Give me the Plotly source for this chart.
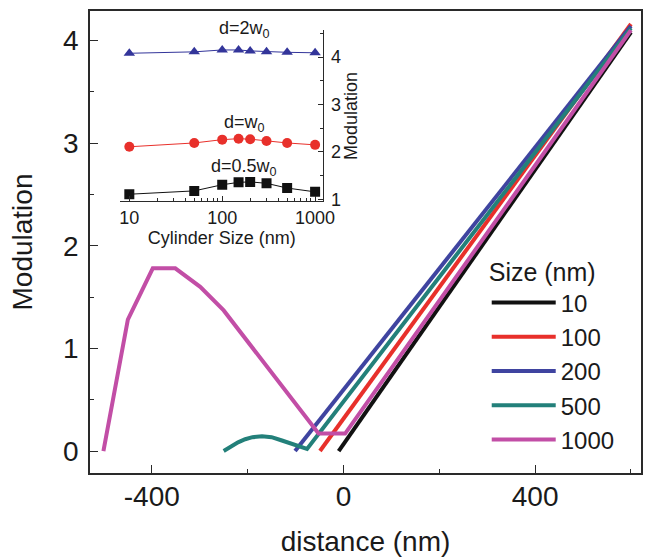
import plotly.graph_objects as go

# ---------------- main panel data ----------------
dist_10 = [-10, 600]
mod_10 = [0.0, 4.08]
dist_100 = [-49, 600]
mod_100 = [0.0, 4.16]
dist_200 = [-101, 600]
mod_200 = [0.0, 4.14]
dist_500 = [-250, -235, -220, -205, -190, -170, -150, -130, -110, -90, -76, 600]
mod_500 = [0.0, 0.045, 0.085, 0.115, 0.135, 0.143, 0.135, 0.105, 0.07, 0.038, 0.02, 4.12]
dist_1000 = [-501, -450, -398, -351, -299, -250, -52, 3.5, 600]
mod_1000 = [0.0, 1.28, 1.78, 1.78, 1.60, 1.37, 0.17, 0.17, 4.10]

sizes = ["10", "100", "200", "500", "1000"]
colors = ["#111111", "#e8302b", "#3f44a0", "#23807a", "#c24ea6"]

# ---------------- inset data ----------------
cyl_size = [10, 50, 100, 150, 200, 300, 500, 1000]
mod_d05 = [1.11, 1.18, 1.31, 1.36, 1.37, 1.34, 1.24, 1.16]
mod_d1 = [2.11, 2.19, 2.26, 2.28, 2.27, 2.23, 2.19, 2.15]
mod_d2 = [4.08, 4.11, 4.15, 4.15, 4.13, 4.11, 4.10, 4.09]

inset_labels = ["d=0.5w<sub>0</sub>", "d=w<sub>0</sub>", "d=2w<sub>0</sub>"]
label_y = [1.67, 2.61, 4.58]

FONT = "Liberation Sans, Arial, sans-serif"
Y2_RANGE = [0.958, 4.56]

fig = go.Figure()
series = [(dist_10, mod_10), (dist_100, mod_100), (dist_200, mod_200),
          (dist_500, mod_500), (dist_1000, mod_1000)]
for (xs, ys), name, col in zip(series, sizes, colors):
    fig.add_trace(go.Scatter(x=xs, y=ys, mode="lines", name=name,
                             line=dict(color=col, width=4),
                             xaxis="x", yaxis="y"))

inset = [(mod_d05, "#111111", "square"), (mod_d1, "#e8302b", "circle"),
         (mod_d2, "#33359a", "triangle-up")]
for ys, col, sym in inset:
    fig.add_trace(go.Scatter(x=cyl_size, y=ys, mode="lines+markers",
                             showlegend=False,
                             line=dict(color=col, width=1),
                             marker=dict(symbol=sym, size=10, color=col),
                             xaxis="x2", yaxis="y2"))

axcol = "#2a2a2a"
fig.update_layout(
    width=651, height=557,
    margin=dict(l=90, r=10.3, t=10.5, b=84.3),
    paper_bgcolor="white", plot_bgcolor="white",
    font=dict(family=FONT, color="#1a1a1a"),
    showlegend=True,
    legend=dict(x=0.72, y=0.487, xanchor="left", yanchor="top",
                bgcolor="rgba(0,0,0,0)", font=dict(size=24),
                title=dict(text="Size (nm)", font=dict(size=25)),
                itemwidth=64, tracegroupgap=0),
    xaxis=dict(domain=[0, 1], range=[-529, 621], automargin=False,
               tickvals=[-400, 0, 400], ticktext=["-400", "0", "400"],
               ticks="inside", ticklen=8, tickwidth=1.2, tickcolor=axcol,
               minor=dict(tickvals=[-200, 200, 600], ticks="inside", ticklen=4,
                          tickwidth=1.2, tickcolor=axcol),
               showline=True, linecolor=axcol, linewidth=1.5, mirror=True,
               showgrid=False, zeroline=False,
               tickfont=dict(size=28), ticklabelstandoff=-2,
               title=dict(text="distance (nm)", font=dict(size=28), standoff=24)),
    yaxis=dict(domain=[0, 1], range=[-0.214, 4.287], automargin=False,
               tickvals=[0, 1, 2, 3, 4],
               ticks="inside", ticklen=8, tickwidth=1.2, tickcolor=axcol,
               minor=dict(tickvals=[0.5, 1.5, 2.5, 3.5], ticks="inside", ticklen=4,
                          tickwidth=1.2, tickcolor=axcol),
               showline=True, linecolor=axcol, linewidth=1.5, mirror=True,
               showgrid=False, zeroline=False,
               tickfont=dict(size=28), ticklabelstandoff=4,
               title=dict(text="Modulation", font=dict(size=28), standoff=22)),
    xaxis2=dict(domain=[0.0545, 0.4237], anchor="y2", type="log",
                range=[0.9, 3.09], automargin=False,
                tickvals=[10, 100, 1000], ticktext=["10", "100", "1000"],
                ticks="inside", ticklen=5, tickcolor=axcol,
                minor=dict(tickvals=[20, 30, 40, 50, 60, 70, 80, 90,
                                     200, 300, 400, 500, 600, 700, 800, 900],
                           ticks="inside", ticklen=3, tickcolor=axcol),
                showline=True, linecolor=axcol, linewidth=1, mirror=False,
                showgrid=False, zeroline=False,
                tickfont=dict(size=18), ticklabelstandoff=0,
                title=dict(text="Cylinder Size (nm)", font=dict(size=18), standoff=0)),
    yaxis2=dict(domain=[0.5878, 0.9578], anchor="x2", side="right",
                range=Y2_RANGE, automargin=False,
                tickvals=[1, 2, 3, 4],
                ticks="inside", ticklen=5, tickcolor=axcol,
                minor=dict(tickvals=[1.5, 2.5, 3.5, 4.5], ticks="inside", ticklen=3,
                           tickcolor=axcol),
                showline=True, linecolor=axcol, linewidth=1, mirror=False,
                showgrid=False, zeroline=False,
                tickfont=dict(size=18), ticklabelstandoff=3,
                title=dict(text="Modulation", font=dict(size=18), standoff=4)),
)

for txt, yv in zip(inset_labels, label_y):
    frac = (yv - Y2_RANGE[0]) / (Y2_RANGE[1] - Y2_RANGE[0])
    fig.add_annotation(text=txt, x=2.24, y=frac, xref="x2", yref="y2 domain",
                       xanchor="center", yanchor="middle",
                       showarrow=False,
                       font=dict(size=18, family=FONT, color="#1a1a1a"))

fig.write_html("out.html", config={"displayModeBar": False},
               post_script="document.body.style.margin='0';")
